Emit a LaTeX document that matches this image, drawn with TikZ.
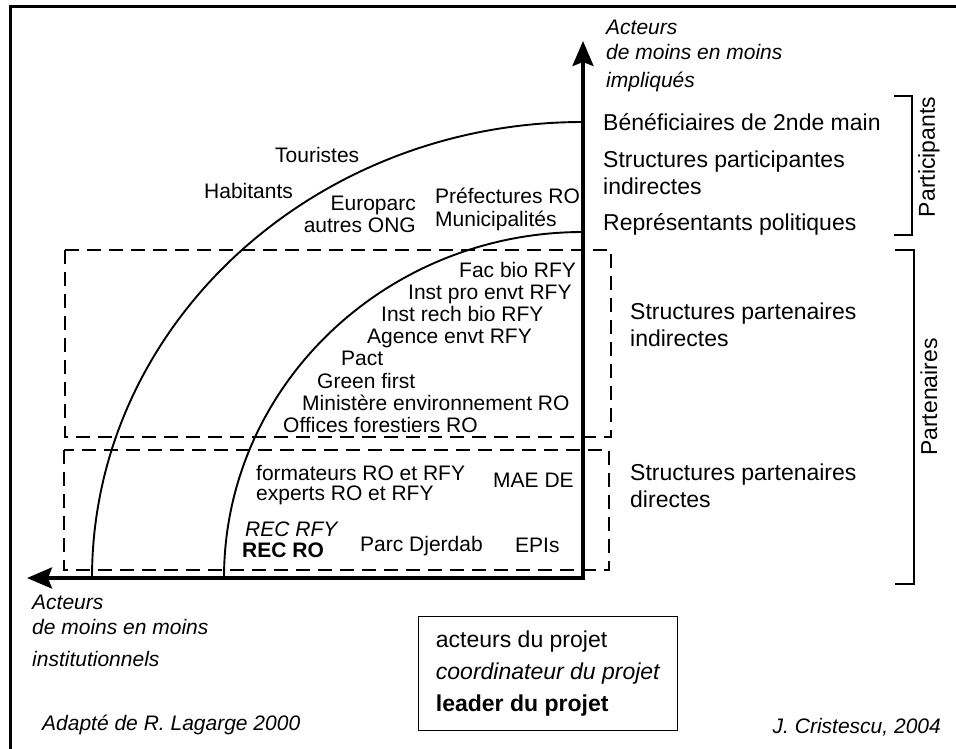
\documentclass[tikz,border=0pt]{standalone}
\usepackage{fontspec}
\setmainfont{Liberation Sans}
\usepackage{tikz}
\usetikzlibrary{positioning,arrows.meta}
\tikzset{
  frame-line/.style={line width=3pt},
  zone-box/.style={line width=1.7pt,dash pattern=on 14pt off 8pt},
  arc-line/.style={line width=1.9pt},
  axis-arrow/.style={line width=3.6pt,line cap=rect,
    -{Stealth[length=25pt,width=21pt,inset=4pt]}},
  bracket-line/.style={line width=1.7pt},
  txt-small/.style={inner sep=0pt,align=left,font=\fontsize{21}{22}\selectfont},
  txt-big/.style={inner sep=0pt,align=left,font=\fontsize{23}{27}\selectfont},
  txt-axis/.style={inner sep=0pt,align=left,font=\fontsize{21}{25.5}\selectfont\itshape},
  legend-box/.style={draw,line width=1.4pt,align=left,inner sep=0pt,
    minimum width=259pt,minimum height=114pt,font=\fontsize{23}{32}\selectfont},
}

\begin{document}
\begin{tikzpicture}[x=1pt,y=-1pt]
  \clip (0,0) rectangle (956,749);
  \draw[frame-line] (10,7) rectangle (980,780);
  % zones partenaires
  \draw[zone-box] (65,250) rectangle (611,437);
  \draw[zone-box] (64,450) rectangle (609,570);
  % cercles d'acteurs
  \draw[arc-line] (583,122) arc[start angle=270,end angle=180,x radius=491,y radius=456];
  \draw[arc-line] (583,232) arc[start angle=270,end angle=180,x radius=359,y radius=346];
  % axes
  \coordinate (orig) at (583,578);
  \coordinate (ytip) at (583,41);
  \coordinate (xtip) at (27,578);
  \draw[axis-arrow] (orig) -- (ytip);
  \draw[axis-arrow] (orig) -- (xtip);
  % (base = derniere ligne)
  \node[txt-axis,anchor=base west] (yaxis-lbl) at (606,88) {Acteurs\\de moins en moins\\[2.5pt]impliqués};
  \node[txt-axis,anchor=base west] (xaxis-lbl) at (32,666) {Acteurs\\de moins en moins\\[6pt]institutionnels};
  % participants / partenaires
  \node[txt-big,anchor=base west] (benef) at (603,131) {Bénéficiaires de 2nde main};
  \node[txt-big,anchor=base west] (struct-part) at (603,194) {Structures participantes\\indirectes};
  \node[txt-big,anchor=base west] (repr) at (603,230) {Représentants politiques};
  \node[txt-big,anchor=base west] (part-ind) at (630,346) {Structures partenaires\\indirectes};
  \node[txt-big,anchor=base west] (part-dir) at (630,507) {Structures partenaires\\directes};
  \draw[bracket-line] (894,96) -- (912,96) -- (912,235) -- (894,235);
  \draw[bracket-line] (895,250) -- (914,250) -- (914,584) -- (895,584);
  \node[txt-big,rotate=90] (participants) at (929,157) {Participants};
  \node[txt-big,rotate=90] (partenaires) at (929,397) {Partenaires};
  % acteurs hors cercles
  \node[txt-small,anchor=base west] (touristes) at (275,163) {Touristes};
  \node[txt-small,anchor=base west] (habitants) at (204,198) {Habitants};
  \node[txt-small,anchor=base east,align=right] (europarc) at (416,232) {Europarc\\autres ONG};
  \node[txt-small,anchor=base west,font=\fontsize{21}{23}\selectfont] (prefect) at (435,226) {Préfectures RO\\Municipalités};
  % partenaires indirects
  \node[txt-small,anchor=base west] (facbio) at (459,277) {Fac bio RFY};
  \node[txt-small,anchor=base west] (instpro) at (408,299) {Inst pro envt RFY};
  \node[txt-small,anchor=base west] (instrech) at (381,321) {Inst rech bio RFY};
  \node[txt-small,anchor=base west] (agence) at (367,343) {Agence envt RFY};
  \node[txt-small,anchor=base west] (pact) at (341,365) {Pact};
  \node[txt-small,anchor=base west] (green) at (317,388) {Green first};
  \node[txt-small,anchor=base west] (minist) at (302,410) {Ministère environnement RO};
  \node[txt-small,anchor=base west] (offices) at (283,432) {Offices forestiers RO};
  % partenaires directs
  \node[txt-small,anchor=base west,font=\fontsize{21}{20}\selectfont] (formateurs) at (256,500) {formateurs RO et RFY\\experts RO et RFY};
  \node[txt-small,anchor=base west] (maede) at (493,487) {MAE DE};
  \node[txt-small,anchor=base west,font=\fontsize{21}{21}\selectfont\itshape] (recrfy) at (245,536) {REC RFY};
  \node[txt-small,anchor=base west,font=\fontsize{21}{21}\selectfont\bfseries] (recro) at (242,557) {REC RO};
  \node[txt-small,anchor=base west] (djerdab) at (360,551) {Parc Djerdab};
  \node[txt-small,anchor=base west] (epis) at (515,552) {EPIs};
  % legende
  \node[legend-box,anchor=north west] (legend) at (418,616)
    {acteurs du projet\\\textit{coordinateur du projet}\\\textbf{leader du projet}};
  \node[txt-small,anchor=base west,font=\fontsize{21}{22}\selectfont\itshape] (adapt) at (42,730) {Adapté de R. Lagarge 2000};
  \node[txt-small,anchor=base east,font=\fontsize{21}{22}\selectfont\itshape] (crist) at (941,733) {J. Cristescu, 2004};
\end{tikzpicture}
\end{document}
